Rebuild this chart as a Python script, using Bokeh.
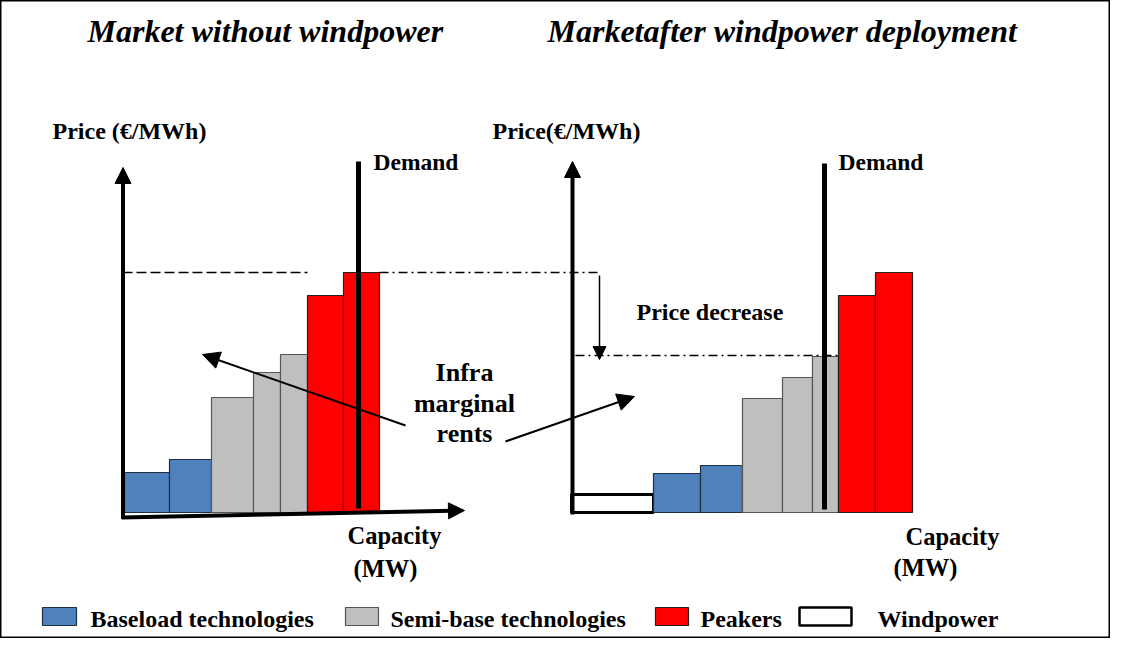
from bokeh.plotting import figure
from bokeh.models import Range1d, Arrow, NormalHead
from bokeh.embed import file_html
from bokeh.resources import INLINE
from bokeh.core.properties import value
import numpy as np

# ---------------- data (schematic units: capacity ~ px width, price ~ px height) ----
left_tech = ["Baseload", "Baseload", "Semi-base", "Semi-base", "Semi-base", "Peakers", "Peakers"]
left_capacity = [45, 42, 42, 27, 27, 36, 36]
left_price = [40, 53, 115, 140, 158, 217, 240]

right_tech = ["Windpower", "Baseload", "Baseload", "Semi-base", "Semi-base", "Semi-base", "Peakers", "Peakers"]
right_capacity = [82, 47, 42, 40, 30, 26, 37, 37]
right_price = [18, 39, 47, 114, 135, 156, 217, 240]

left_demand = 234        # demand position on capacity axis (left market)
right_demand = 253       # demand position on capacity axis (right market)
left_clearing_price = 240
right_clearing_price = 157

legend_labels = ["Baseload technologies", "Semi-base technologies", "Peakers", "Windpower"]
titles = ["Market without windpower", "Marketafter windpower deployment"]

colors = {"Baseload": "#4F81BD", "Semi-base": "#BFBFBF", "Peakers": "#FF0000", "Windpower": "#FFFFFF"}
edges = {"Baseload": "#1F2F40", "Semi-base": "#555555", "Peakers": "#222222", "Windpower": "#000000"}
edge_w = {"Baseload": 1.2, "Semi-base": 1.2, "Peakers": 1.2, "Windpower": 3}

# ---------------- layout constants ----------------
BASE = 512  # pixel row of price 0
def Y(py):
    return BASE - py

LEFT_X0 = 124
RIGHT_X0 = 571
FONT = value("Liberation Serif")
TXT_SHIFT = 10  # renderer places alphabetic baseline slightly lower

p = figure(width=1110, height=638, output_backend="svg", toolbar_location=None,
           x_range=Range1d(0, 1110), y_range=Range1d(Y(638), Y(0)), min_border=0)
p.axis.visible = False
p.grid.visible = False
p.outline_line_color = "black"
p.outline_line_width = 2
p.background_fill_color = "white"


def bars(x0, caps, prices, techs):
    edges_x = x0 + np.concatenate([[0], np.cumsum(caps)])
    p.quad(left=edges_x[:-1], right=edges_x[1:], bottom=[0] * len(caps), top=prices,
           fill_color=[colors[t] for t in techs], line_color=[edges[t] for t in techs],
           line_width=[edge_w[t] for t in techs])
    return edges_x


le = bars(LEFT_X0, left_capacity, left_price, left_tech)
re = bars(RIGHT_X0, right_capacity, right_price, right_tech)

# demand lines
p.segment(x0=[LEFT_X0 + left_demand], y0=[Y(508)], x1=[LEFT_X0 + left_demand], y1=[Y(161)],
          line_width=5, line_color="black")
p.segment(x0=[RIGHT_X0 + right_demand], y0=[Y(509)], x1=[RIGHT_X0 + right_demand], y1=[Y(163)],
          line_width=5, line_color="black")

# price lines
p.segment(x0=[122], y0=[left_clearing_price], x1=[le[-3]], y1=[left_clearing_price],
          line_dash="10 4", line_color="black", line_width=1.3)
p.segment(x0=[le[-1]], y0=[left_clearing_price], x1=[598], y1=[left_clearing_price],
          line_dash="9 4 2 4", line_color="black", line_width=1.3)
p.segment(x0=[575], y0=[right_clearing_price], x1=[re[-3]], y1=[right_clearing_price],
          line_dash="9 4 2 4", line_color="black", line_width=1.3)

# axes arrows
def arrow(x0, y0, x1, y1, lw, size):
    p.add_layout(Arrow(end=NormalHead(size=size, fill_color="black", line_color="black"),
                       x_start=x0, y_start=y0, x_end=x1, y_end=y1,
                       line_width=lw, line_color="black"))

arrow(122.5, Y(518), 122.5, Y(167), 4, 16)
arrow(121, Y(517), 464, Y(510), 4, 16)
arrow(572, Y(514), 572, Y(161), 4, 16)

# price decrease arrow
arrow(599, Y(275), 599, Y(359), 1.5, 13)
# infra-marginal rent arrows
arrow(405, Y(425), 202, Y(354), 2, 17)
arrow(505, Y(441), 634, Y(396), 2, 17)


def txt(x, py, s, size, align="left", style="bold"):
    p.text(x=[x], y=[Y(py - TXT_SHIFT)], text=[s], text_font=FONT, text_font_size=f"{size}px",
           text_font_style=style, text_align=align, text_baseline="alphabetic",
           text_color="black")

txt(87, 40, titles[0], 32, style="bold italic")
txt(547, 40, titles[1], 32, style="bold italic")
txt(52, 140, "Price (€/MWh)", 24)
txt(492, 140, "Price(€/MWh)", 24)
txt(373, 171, "Demand", 23.5)
txt(838, 171, "Demand", 23.5)
txt(636, 321, "Price decrease", 24)
txt(464, 382, "Infra", 26, align="center")
txt(464, 413, "marginal", 26, align="center")
txt(464, 443, "rents", 26, align="center")
txt(347, 545, "Capacity", 24.5)
txt(353, 578, "(MW)", 24.5)
txt(905, 546, "Capacity", 24.5)
txt(893, 577, "(MW)", 24.5)

# legend
LEG_BASE = 628
sw_left = [42, 345, 655, 799]
sw_right = [76, 378, 688, 851]
sw_fill = [colors["Baseload"], colors["Semi-base"], colors["Peakers"], colors["Windpower"]]
sw_line = ["#1F2F40", "#555555", "#222222", "#000000"]
sw_lw = [1.2, 1.2, 1.2, 2.5]
p.quad(left=sw_left, right=sw_right, bottom=[Y(LEG_BASE - 3)] * 4, top=[Y(LEG_BASE - 21)] * 4,
       fill_color=sw_fill, line_color=sw_line, line_width=sw_lw)
lab_x = [90, 390, 700, 877]
for x, s in zip(lab_x, legend_labels):
    txt(x, LEG_BASE, s, 24)

open("out.html", "w").write(file_html(p, INLINE))
